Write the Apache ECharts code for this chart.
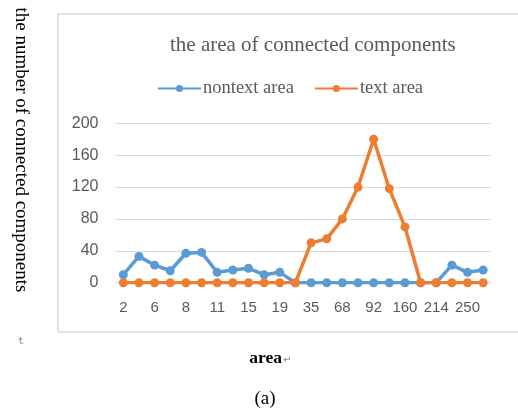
<!DOCTYPE html>
<html>
<head>
<meta charset="utf-8">
<script src="https://cdn.jsdelivr.net/npm/echarts@6/dist/echarts.min.js"></script>
<style>
html,body{margin:0;padding:0;background:#fff;}
#c{width:518px;height:412px;}
</style>
</head>
<body>
<div id="c"></div>
<script>
var categories = ['2','4','6','7','8','10','11','13','15','17','19','27','35','50','68','80','92','120','160','190','214','230','250','300'];
var nontextArea = [10,33,22,15,37,38,13,16,18,10,13,0,0,0,0,0,0,0,0,0,0,22,13,16];
var textArea =    [0,0,0,0,0,0,0,0,0,0,0,0,50,55,80,120,180,118,70,0,0,0,0,0];
var yTicks = {min:0, max:200, interval:40};

var chart = echarts.init(document.getElementById('c'));
var serif = '"Liberation Serif","Times New Roman",serif';
var sans = '"Liberation Sans","DejaVu Sans",sans-serif';
chart.setOption({
  animation:false,
  backgroundColor:'#fff',
  title:{
    text:'the area of connected components',
    left:165, top:30,
    textStyle:{fontFamily:serif, fontSize:21, fontWeight:'normal', color:'#595959'}
  },
  legend:{
    top:74, left:152,
    itemWidth:43, itemHeight:9, itemGap:20,
    textStyle:{fontFamily:serif, fontSize:18.5, color:'#595959', padding:[0,0,0,-3]},
    data:['nontext area','text area']
  },
  grid:{left:115.5, right:27, top:123.3, bottom:129.3},
  xAxis:{
    type:'category', data:categories, boundaryGap:true,
    axisLine:{show:true, lineStyle:{color:'#D9D9D9', width:1}},
    axisTick:{show:false},
    axisLabel:{interval:1, margin:18, fontFamily:sans, fontSize:15, color:'#595959'}
  },
  yAxis:{
    type:'value', min:yTicks.min, max:yTicks.max, interval:yTicks.interval,
    axisLine:{show:false}, axisTick:{show:false},
    axisLabel:{margin:17, fontFamily:sans, fontSize:16, color:'#595959'},
    splitLine:{lineStyle:{color:'#D9D9D9', width:1}}
  },
  series:[
    {name:'nontext area', type:'line', data:nontextArea, symbol:'circle', symbolSize:9,
     itemStyle:{color:'#5B9BD5'}, lineStyle:{color:'#5B9BD5', width:3.5}},
    {name:'text area', type:'line', data:textArea, symbol:'circle', symbolSize:9,
     itemStyle:{color:'#ED7D31'}, lineStyle:{color:'#ED7D31', width:3.5}}
  ],
  graphic:[
    {type:'rect', shape:{x:58, y:14, width:470, height:318},
     style:{fill:null, stroke:'#D9D9D9', lineWidth:1.5}, silent:true, z:-1},
    {type:'text', x:21, y:150, rotation:-Math.PI/2,
     style:{text:'the number of connected components', font:'19px '+serif, fill:'#000', align:'center', verticalAlign:'middle'}},
    {type:'text', x:20, y:341, rotation:-Math.PI/2,
     style:{text:'\u21B5', font:'10px '+sans, fill:'#888', align:'center', verticalAlign:'middle'}},
    {type:'text', x:282, y:358,
     style:{text:'area', font:'bold 17.5px '+serif, fill:'#000', align:'right', verticalAlign:'middle'}},
    {type:'text', x:283, y:360,
     style:{text:'\u21B5', font:'10px '+sans, fill:'#888', align:'left', verticalAlign:'middle'}},
    {type:'text', x:265, y:399,
     style:{text:'(a)', font:'19px '+serif, fill:'#000', align:'center', verticalAlign:'middle'}}
  ]
});
</script>
</body>
</html>
